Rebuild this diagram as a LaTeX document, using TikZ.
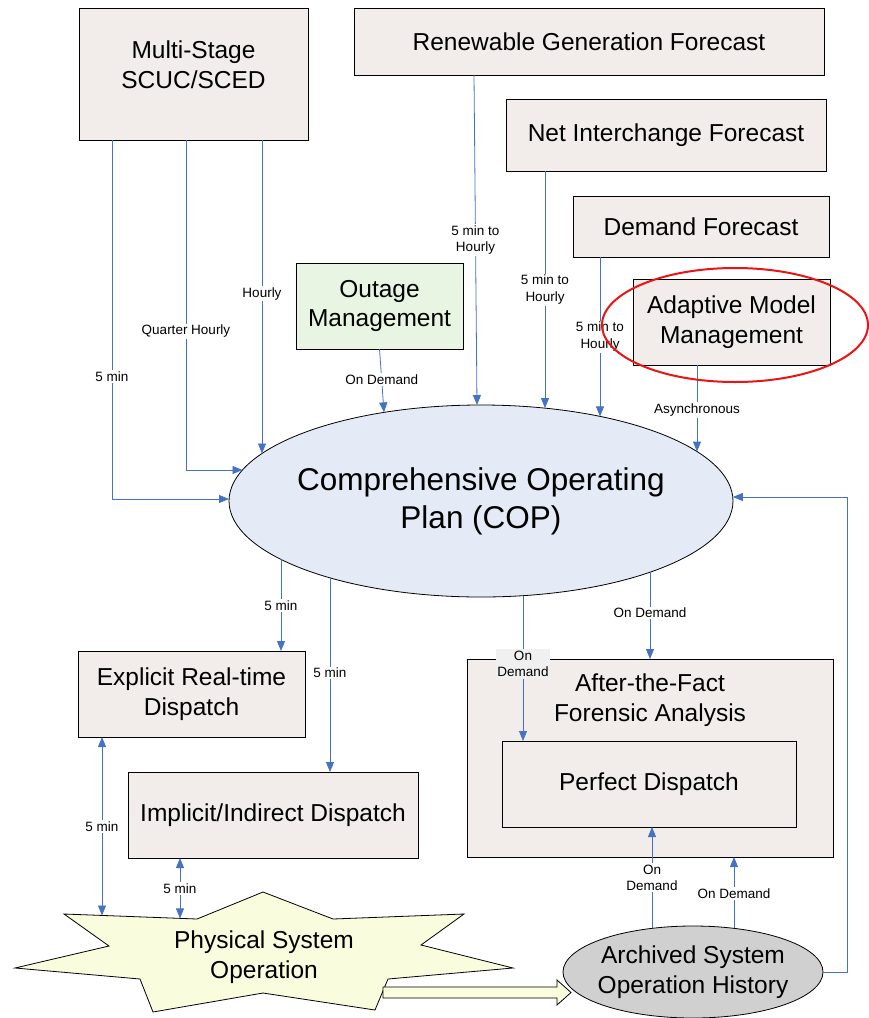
\documentclass[tikz,border=0pt]{standalone}
\usepackage{fontspec}
\setmainfont{Liberation Sans}
\usetikzlibrary{arrows.meta,shapes.geometric,calc}

\definecolor{boxfill}{RGB}{242,237,234}
\definecolor{outfill}{RGB}{232,245,226}
\definecolor{copfill}{RGB}{228,235,246}
\definecolor{starfill}{RGB}{250,252,222}
\definecolor{archfill}{RGB}{208,208,208}
\definecolor{linkblue}{RGB}{68,114,196}
\definecolor{markred}{RGB}{235,20,20}

\begin{document}
\begin{tikzpicture}[x=1pt,y=-1pt,
  bigtext/.style={font={\fontsize{24.5}{29.5}\selectfont}, align=center},
  box/.style={bigtext, draw=black, line width=0.8pt, fill=boxfill,
    inner sep=0pt, outer sep=0pt},
  oval/.style={ellipse, draw=black, line width=0.8pt,
    inner sep=0pt, outer sep=0pt},
  link/.style={draw=linkblue, line width=0.8pt,
    -{Triangle[length=10pt,width=8pt]}},
  twoway/.style={link, {Triangle[length=10pt,width=8pt]}-{Triangle[length=10pt,width=8pt]}},
  lbl/.style={font={\fontsize{13.5}{16.5}\selectfont}, align=center,
    fill=white, inner sep=1.5pt, text=black},
  greylbl/.style={lbl, fill=gray!12},
]
\useasboundingbox (0,0) rectangle (869,1018);

% ---- input sources ----
\node[box, minimum width=229pt, minimum height=132pt] (scuc) at (193.5,74) {};
\node[bigtext] (scuctext) at (193.5,64.5) {Multi-Stage\\SCUC/SCED};
\node[box, minimum width=470pt, minimum height=67pt] (renew) at (589,41.5)
  {Renewable Generation Forecast};
\node[box, minimum width=320pt, minimum height=72pt] (net) at (666,135)
  {Net Interchange Forecast};
\node[box, minimum width=256pt, minimum height=61pt] (demand) at (701,226.5)
  {Demand Forecast};
\node[box, minimum width=197pt, minimum height=86pt] (adapt) at (731.5,322)
  {Adaptive Model\\Management};
\node[box, fill=outfill, minimum width=167pt, minimum height=86pt] (outage) at (379.5,306)
  {Outage\\Management};

% ---- central plan (radii 252 x 96) ----
\node[oval, fill=copfill, minimum width=504pt, minimum height=192pt] (cop) at (481,501) {};
\node[align=center, font={\fontsize{31.5}{38}\selectfont}] (coptext) at (cop.center)
  {Comprehensive Operating\\Plan (COP)};

% ---- consumers ----
\node[box, minimum width=227pt, minimum height=86pt] (explicit) at (191.5,694)
  {Explicit Real-time\\Dispatch};
\node[box, minimum width=290pt, minimum height=86pt] (implicit) at (273,815)
  {Implicit/Indirect Dispatch};
\node[box, minimum width=366pt, minimum height=198pt] (after) at (650,758) {};
\node[bigtext] (aftertext) at (650,700) {After-the-Fact\\Forensic Analysis};
\node[box, minimum width=294pt, minimum height=86pt] (perfect) at (649,784)
  {Perfect Dispatch};

% ---- physical system (star) ----
\draw[line width=0.8pt, fill=starfill]
  (64,914) -- (197,919) -- (263,892) -- (333,919) -- (464,914) -- (421,945)
  -- (513,968) -- (388,979) -- (375,1010) -- (263,993) -- (153,1012)
  -- (140,979) -- (15,968) -- (109,946) -- cycle;
\node[bigtext] (phys) at (264,957) {Physical System\\Operation};
\coordinate (physA) at (102,915.5);
\coordinate (physB) at (180,918.4);

% ---- archive (radii 130 x 46) ----
\node[oval, fill=archfill, minimum width=260pt, minimum height=92pt] (arch) at (693,972) {};
\node[bigtext] (archtext) at (arch.center) {Archived System\\Operation History};

% ---- block arrow from operation to archive ----
\coordinate (flowtip) at (571,992.5);
\draw[line width=0.8pt, fill=starfill]
  (383,987) -- (557,987) -- (557,980) -- (flowtip) -- (557,1005)
  -- (557,998) -- (383,998) -- cycle;

% ---- connectors into the plan (end points on the ellipse rim) ----
\draw[link] ([xshift=-81.5pt]scuc.south) |- node[lbl,pos=0.33]{5 min}
  ($(cop.center)+(-252,-2)$);
\draw[link] ([xshift=-7.5pt]scuc.south) |- node[lbl,pos=0.29]{Quarter Hourly}
  ($(cop.center)+(-238.5,-31)$);
\draw[link] ([xshift=68.5pt]scuc.south) -- node[lbl,pos=0.49]{Hourly}
  ($(cop.center)+(-219,-47.5)$);
\draw[link] ([xshift=-115pt]renew.south) -- node[lbl]{5 min to\\Hourly}
  ($(cop.center)+(-4,-96)$);
\draw[link] ([xshift=-121pt]net.south) -- node[lbl]{5 min to\\Hourly}
  ($(cop.center)+(64,-92.9)$);
\draw[link] ([xshift=-101pt]demand.south) -- node[lbl]{5 min to\\Hourly}
  ($(cop.center)+(119,-84.6)$);
\draw[link] ([xshift=-34.5pt]adapt.south) -- node[lbl,pos=0.52]{Asynchronous}
  ($(cop.center)+(216,-49.4)$);
\draw[link] (outage.south) -- node[lbl,pos=0.48]{On Demand}
  ($(cop.center)+(-97,-88.6)$);

% ---- connectors out of the plan ----
\draw[link] ($(cop.center)+(-200,58.4)$) -- node[lbl]{5 min}
  ([xshift=89.5pt]explicit.north);
\draw[link] ($(cop.center)+(-151,76.9)$) -- node[lbl,pos=0.49]{5 min}
  ([xshift=57pt]implicit.north);
\draw[link] ($(cop.center)+(42,94.7)$) -- node[greylbl,pos=0.47]{On\\Demand}
  ([xshift=-126pt]perfect.north);
\draw[link] ($(cop.center)+(169,71.2)$) -- node[lbl,pos=0.47]{On Demand}
  (after.north);

% ---- dispatch to physical system ----
\draw[twoway] ([xshift=-89.5pt]explicit.south) -- node[lbl]{5 min} (physA);
\draw[twoway] ([xshift=-93pt]implicit.south) -- node[lbl]{5 min} (physB);

% ---- archive feedback ----
\draw[link] ($(arch.center)+(-41,-43.65)$) -- node[lbl]{On\\Demand}
  ([xshift=3pt]perfect.south);
\draw[link] ($(arch.center)+(41,-43.65)$) -- node[lbl,pos=0.49]{On Demand}
  ([xshift=84pt]after.south);
\coordinate (bend) at (847,497);
\draw[link] (arch.east) -| (bend) -- ($(cop.center)+(251.8,-4)$);

% ---- highlight ring ----
\node[ellipse, draw=markred, line width=2pt, minimum width=266pt, minimum height=114pt,
  inner sep=0pt] (highlight) at (735,325) {};
\end{tikzpicture}
\end{document}
